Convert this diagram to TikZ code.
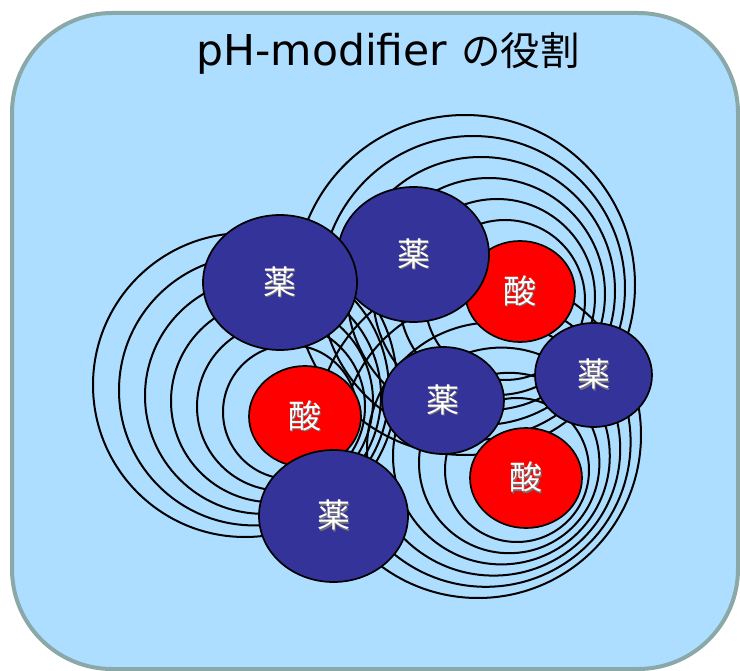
\documentclass[tikz,border=0pt]{standalone}
\usepackage{fontspec}
\setmainfont{Noto Sans CJK JP}
\newfontfamily\jpfont{Noto Sans CJK JP}
\newfontfamily\latinfont{DejaVu Sans}
\usetikzlibrary{shapes.geometric}

\definecolor{panelfill}{HTML}{ADDEFF}
\definecolor{panelline}{HTML}{8BA8A8}
\definecolor{drugblue}{HTML}{333399}
\definecolor{acidred}{HTML}{FF0000}

% white label with a soft dark drop shadow
\newcommand\shadowlabel[1]{\rlap{\kern1.2pt\raisebox{-1.2pt}{\textcolor{black!55}{#1}}}\textcolor{white}{#1}}

% a set of six growing, drifting circles
\newcommand\ringset[6]{%
  \foreach \k in {0,...,5}{%
    \pgfmathsetmacro\cx{#1+(#4-#1)*\k/5}%
    \pgfmathsetmacro\cy{#2+(#5-#2)*\k/5}%
    \pgfmathsetmacro\rr{#3+(#6-#3)*\k/5}%
    \draw[ring] (\cx,\cy) circle[radius=\rr pt];
  }}

\begin{document}
\begin{tikzpicture}[x=1pt,y=-1pt,
  ring/.style={draw=black,line width=2pt},
  particle/.style={ellipse,draw=black,line width=1.7pt,inner sep=0pt,
    font=\jpfont\fontsize{33}{33}\selectfont},
  drug/.style={particle,fill=drugblue},
  acid/.style={particle,fill=acidred}]

\useasboundingbox (0,0) rectangle (740,671);
\draw[fill=panelfill,draw=panelline,line width=4pt,rounded corners=100pt]
  (12,13) rectangle (738,669);

\node[anchor=base,inner sep=0pt] (title) at (388,66)
  {{\latinfont\fontsize{42.5}{42.5}\selectfont pH-modifier}\hspace{14pt}{\jpfont\fontsize{39.5}{39.5}\selectfont の役割}};

% solvation shells around the three acid particles
\ringset{290}{412}{67}{245}{385}{152}
\ringset{505}{300}{80}{465}{285}{170}
\ringset{517}{470}{72}{478}{435}{163}

% particles, back to front
\node[acid,minimum width=110pt,minimum height=101pt] (acidtop) at (520,291.5) {\shadowlabel{酸}};
\node[drug,minimum width=151pt,minimum height=135pt] (drugtop) at (413.5,254.5) {\shadowlabel{薬}};
\node[drug,minimum width=154pt,minimum height=135pt] (drugleft) at (280,282.5) {\shadowlabel{薬}};
\node[acid,minimum width=112pt,minimum height=101pt] (acidleft) at (305,416.5) {\shadowlabel{酸}};
\node[drug,minimum width=149pt,minimum height=132pt] (drugbottom) at (333.5,516) {\shadowlabel{薬}};
\node[drug,minimum width=122pt,minimum height=107pt] (drugcenter) at (443,400.5) {\shadowlabel{薬}};
\node[drug,minimum width=117pt,minimum height=104pt] (drugright) at (593.5,375) {\shadowlabel{薬}};
\node[acid,minimum width=112pt,minimum height=100pt] (acidbottom) at (526,478) {\shadowlabel{酸}};
\end{tikzpicture}
\end{document}
